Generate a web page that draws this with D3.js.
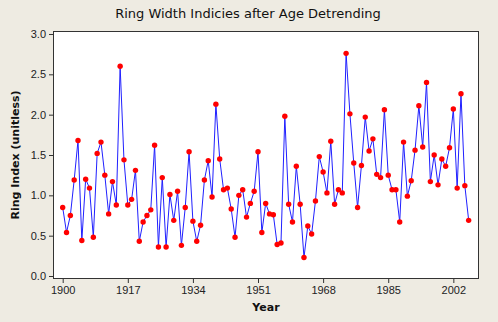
<!DOCTYPE html>
<html>
<head>
<meta charset="utf-8">
<script src="https://cdn.jsdelivr.net/npm/d3@7"></script>
<style>
  html, body { margin: 0; padding: 0; background: #EEEBE2; }
  svg { display: block; }
</style>
</head>
<body>
<svg id="chart" width="498" height="322"></svg>
<script>
const startYear = 1900;
const ringIndex = [
  0.85, 0.54, 0.75, 1.19, 1.68, 0.44, 1.20, 1.09, 0.48, 1.52,
  1.66, 1.25, 0.77, 1.17, 0.88, 2.60, 1.44, 0.88, 0.95, 1.31,
  0.43, 0.67, 0.75, 0.82, 1.62, 0.36, 1.22, 0.36, 1.01, 0.69,
  1.05, 0.38, 0.85, 1.54, 0.68, 0.43, 0.63, 1.19, 1.43, 0.98,
  2.13, 1.45, 1.07, 1.09, 0.83, 0.48, 1.00, 1.07, 0.73, 0.90,
  1.05, 1.54, 0.54, 0.90, 0.77, 0.76, 0.39, 0.41, 1.98, 0.89,
  0.67, 1.36, 0.89, 0.23, 0.62, 0.52, 0.93, 1.48, 1.29, 1.03,
  1.67, 0.89, 1.07, 1.03, 2.76, 2.01, 1.40, 0.85, 1.37, 1.97,
  1.55, 1.70, 1.26, 1.22, 2.06, 1.25, 1.07, 1.07, 0.67, 1.66,
  0.99, 1.18, 1.56, 2.11, 1.60, 2.40, 1.17, 1.50, 1.13, 1.45,
  1.36, 1.59, 2.07, 1.09, 2.26, 1.12, 0.69
];
const years = ringIndex.map((_, i) => startYear + i);
const xTicks = [1900, 1917, 1934, 1951, 1968, 1985, 2002];
const yTicks = [0.0, 0.5, 1.0, 1.5, 2.0, 2.5, 3.0];
const titleText = "Ring Width Indicies after Age Detrending";
const xLabel = "Year";
const yLabel = "Ring Index (unitless)";

const data = years.map((yr, i) => ({ year: yr, value: ringIndex[i] }));

const svg = d3.select("#chart");
const pLeft = 53, pRight = 479, pTop = 31, pBottom = 279;

const x = d3.scaleLinear().domain([1897.47, 2008.7]).range([pLeft, pRight]);
const y = d3.scaleLinear().domain([-0.037, 3.037]).range([pBottom, pTop]);

const font = "'Liberation Sans', Arial, sans-serif";

svg.append("rect")
  .attr("x", pLeft).attr("y", pTop)
  .attr("width", pRight - pLeft).attr("height", pBottom - pTop)
  .attr("fill", "#ffffff");

const xAxis = svg.append("g")
  .attr("transform", `translate(0,${pBottom})`)
  .call(d3.axisBottom(x).tickValues(xTicks).tickFormat(d3.format("d")).tickSize(4).tickPadding(3));
const yAxis = svg.append("g")
  .attr("transform", `translate(${pLeft},0)`)
  .call(d3.axisLeft(y).tickValues(yTicks).tickFormat(d3.format(".1f")).tickSize(4).tickPadding(3));

[xAxis, yAxis].forEach(g => {
  g.select(".domain").remove();
  g.selectAll("line").attr("stroke", "#333");
  g.selectAll("text").attr("font-family", font).attr("font-size", 11).attr("fill", "#222");
});

svg.append("rect")
  .attr("x", pLeft + 0.5).attr("y", pTop + 0.5)
  .attr("width", pRight - pLeft - 1).attr("height", pBottom - pTop - 1)
  .attr("fill", "none").attr("stroke", "#333").attr("stroke-width", 1);

const line = d3.line().x(d => x(d.year)).y(d => y(d.value));
svg.append("path")
  .datum(data)
  .attr("d", line)
  .attr("fill", "none")
  .attr("stroke", "#2020ff")
  .attr("stroke-width", 1);

svg.append("g").selectAll("circle")
  .data(data)
  .join("circle")
  .attr("cx", d => x(d.year))
  .attr("cy", d => y(d.value))
  .attr("r", 2.7)
  .attr("fill", "#ff0000");

svg.append("text")
  .attr("x", 248).attr("y", 18)
  .attr("text-anchor", "middle")
  .attr("font-family", "'DejaVu Sans', sans-serif")
  .attr("font-size", 13)
  .attr("fill", "#111")
  .text(titleText);

svg.append("text")
  .attr("x", (pLeft + pRight) / 2).attr("y", 311)
  .attr("text-anchor", "middle")
  .attr("font-family", "'DejaVu Sans', sans-serif")
  .attr("font-weight", "bold")
  .attr("font-size", 11)
  .attr("fill", "#111")
  .text(xLabel);

svg.append("text")
  .attr("transform", `translate(19,${(pTop + pBottom) / 2}) rotate(-90)`)
  .attr("text-anchor", "middle")
  .attr("font-family", "'DejaVu Sans', sans-serif")
  .attr("font-weight", "bold")
  .attr("font-size", 11)
  .attr("fill", "#111")
  .text(yLabel);
</script>
</body>
</html>
